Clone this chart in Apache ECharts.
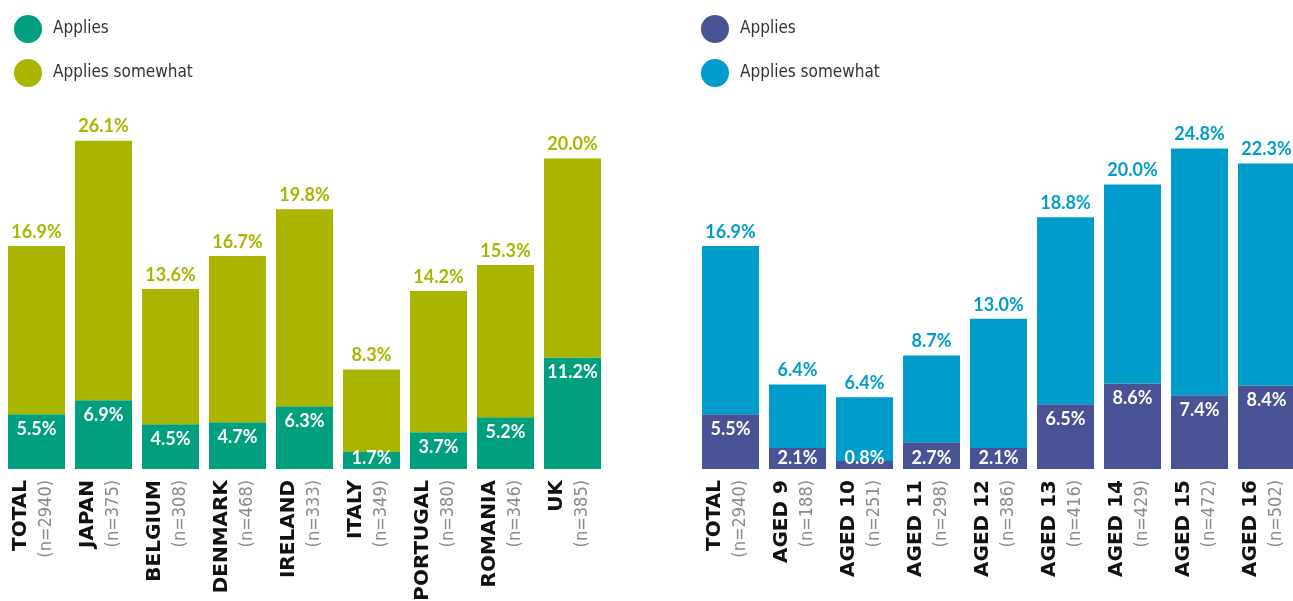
<!DOCTYPE html>
<html>
<head>
<meta charset="utf-8">
<script src="https://cdn.jsdelivr.net/npm/echarts@6/dist/echarts.min.js"></script>
<style>
  html, body { margin: 0; padding: 0; background: #fff; overflow: hidden; }
  /* canvas runs slightly past the right edge so the last bar is trimmed at the border */
  #chart { width: 1310px; height: 601px; }
</style>
</head>
<body>
<div id="chart"></div>
<script>
// Left panel: by country
const countries = ['TOTAL', 'JAPAN', 'BELGIUM', 'DENMARK', 'IRELAND', 'ITALY', 'PORTUGAL', 'ROMANIA', 'UK'];
const countrySamples = ['2940', '375', '308', '468', '333', '349', '380', '346', '385'];
const countryApplies = [5.5, 6.9, 4.5, 4.7, 6.3, 1.7, 3.7, 5.2, 11.2];
const countrySomewhat = [16.9, 26.1, 13.6, 16.7, 19.8, 8.3, 14.2, 15.3, 20.0];

// Right panel: by age
const ages = ['TOTAL', 'AGED 9', 'AGED 10', 'AGED 11', 'AGED 12', 'AGED 13', 'AGED 14', 'AGED 15', 'AGED 16'];
const ageSamples = ['2940', '188', '251', '298', '386', '416', '429', '472', '502'];
const ageApplies = [5.5, 2.1, 0.8, 2.7, 2.1, 6.5, 8.6, 7.4, 8.4];
const ageSomewhat = [16.9, 6.4, 6.4, 8.7, 13.0, 18.8, 20.0, 24.8, 22.3];

const seriesNames = ['Applies', 'Applies somewhat'];

const GREEN = '#00a07f';
const OLIVE = '#aab500';
const PURPLE = '#4a5296';
const BLUE = '#009dcb';

const numFont = 'Lato, "Noto Sans", sans-serif';
const capsFont = '"DejaVu Sans", sans-serif';
const thinFont = '"DejaVu Sans Condensed", "Liberation Sans Narrow", sans-serif';

const pct = v => v.toFixed(1) + '%';

// Bottom segments: label sits under the segment top; very short segments keep it near the base
function bottomData(values) {
  return values.map(v => v < 3
    ? { value: v, label: { position: 'insideBottom', distance: 2 } }
    : { value: v });
}

function xAxisFor(gridIndex, cats, samples) {
  return {
    type: 'category',
    gridIndex: gridIndex,
    data: cats,
    axisLine: { show: false },
    axisTick: { show: false },
    axisLabel: {
      interval: 0,
      rotate: 90,
      margin: 11,
      padding: [0, 0, 6, 0],
      formatter: (value, idx) => '{b|' + value + '}\n{n|(n=' + samples[idx] + ')}',
      rich: {
        b: { fontFamily: capsFont, fontWeight: 'bold', fontSize: 20, color: '#111', lineHeight: 25 },
        n: { fontFamily: thinFont, fontWeight: 'normal', fontSize: 18, color: '#8a8a8a', lineHeight: 25 }
      }
    }
  };
}

function yAxisFor(gridIndex) {
  return {
    type: 'value', gridIndex: gridIndex, min: 0, max: 40,
    show: false, splitLine: { show: false }
  };
}

function seriesFor(idx, lowVals, highVals, lowColor, highColor) {
  const stack = 'stack' + idx;
  return [
    {
      name: seriesNames[0], type: 'bar', stack: stack,
      xAxisIndex: idx, yAxisIndex: idx,
      barWidth: 57,
      itemStyle: { color: lowColor },
      label: {
        show: true, position: 'insideTop', distance: 6,
        formatter: p => pct(p.value),
        color: '#fff', fontFamily: numFont, fontWeight: 'bold', fontSize: 18
      },
      data: bottomData(lowVals)
    },
    {
      name: seriesNames[1], type: 'bar', stack: stack,
      xAxisIndex: idx, yAxisIndex: idx,
      barWidth: 57,
      itemStyle: { color: highColor },
      label: {
        show: true, position: 'top', distance: 5,
        formatter: p => pct(p.value),
        color: highColor, fontFamily: numFont, fontWeight: 'bold', fontSize: 18
      },
      data: highVals
    }
  ];
}

function legendFor(left, lowColor, highColor) {
  return {
    left: left, top: 10, orient: 'vertical',
    icon: 'circle', itemWidth: 28, itemHeight: 28, itemGap: 16,
    selectedMode: false,
    textStyle: { fontFamily: thinFont, fontSize: 17, color: '#333', padding: [0, 0, 0, 6] },
    data: [
      { name: seriesNames[0], itemStyle: { color: lowColor } },
      { name: seriesNames[1], itemStyle: { color: highColor } }
    ]
  };
}

const chart = echarts.init(document.getElementById('chart'));
chart.setOption({
  animation: false,
  backgroundColor: '#fff',
  legend: [legendFor(9, GREEN, OLIVE), legendFor(696, PURPLE, BLUE)],
  grid: [
    { left: 3, top: 71, width: 603, height: 398, outerBoundsMode: 'none' },
    { left: 697, top: 71, width: 603, height: 398, outerBoundsMode: 'none' }
  ],
  xAxis: [xAxisFor(0, countries, countrySamples), xAxisFor(1, ages, ageSamples)],
  yAxis: [yAxisFor(0), yAxisFor(1)],
  series: [
    ...seriesFor(0, countryApplies, countrySomewhat, GREEN, OLIVE),
    ...seriesFor(1, ageApplies, ageSomewhat, PURPLE, BLUE)
  ]
});
</script>
</body>
</html>
